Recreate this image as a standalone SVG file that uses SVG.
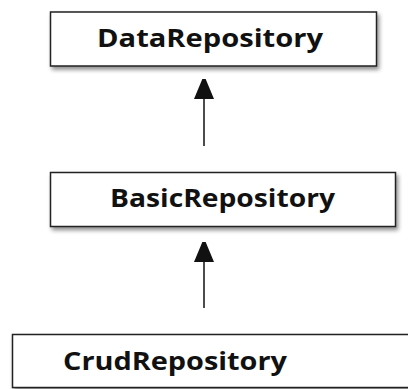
<svg xmlns="http://www.w3.org/2000/svg" width="408" height="389" viewBox="0 0 408 389">
<style>
.box{fill:#fff;stroke:#222;stroke-width:1.5;filter:url(#sh)}
.lbl{font-family:"Open Sans","DejaVu Sans",sans-serif;font-weight:bold;font-size:25px;fill:#111;text-anchor:middle}
.conn{stroke:#111;stroke-width:1.5;fill:none;marker-end:url(#arr)}
</style>
<defs>
<filter id="sh" x="-10%" y="-20%" width="120%" height="150%">
<feGaussianBlur in="SourceAlpha" stdDeviation="2"/>
<feOffset dx="2" dy="3" result="b"/>
<feComponentTransfer><feFuncA type="linear" slope="0.45"/></feComponentTransfer>
<feMerge><feMergeNode/><feMergeNode in="SourceGraphic"/></feMerge>
</filter>
<marker id="arr" markerUnits="userSpaceOnUse" markerWidth="20" markerHeight="26" refX="20" refY="10" orient="auto">
<path d="M0,0 L24,10 L0,20 Z" fill="#111"/>
</marker>
</defs>
<rect width="408" height="389" fill="#fff"/>
<g id="DataRepository">
<rect class="box" x="50.5" y="12" width="326" height="54"/>
<text class="lbl" x="210" y="47" textLength="226" lengthAdjust="spacingAndGlyphs">DataRepository</text>
</g>
<g id="BasicRepository">
<rect class="box" x="50.5" y="172.5" width="345" height="54"/>
<text class="lbl" x="222.5" y="207" textLength="225" lengthAdjust="spacingAndGlyphs">BasicRepository</text>
</g>
<g id="CrudRepository">
<rect class="box" x="12.5" y="334.5" width="410" height="53"/>
<text class="lbl" x="175" y="370" textLength="224" lengthAdjust="spacingAndGlyphs">CrudRepository</text>
</g>
<g id="connectors">
<path class="conn" d="M204,146 V79"/>
<path class="conn" d="M204,308 V242"/>
</g>
</svg>
